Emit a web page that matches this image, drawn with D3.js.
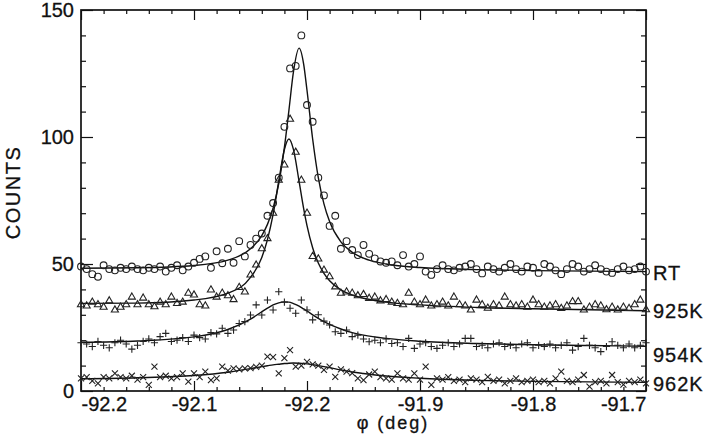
<!DOCTYPE html>
<html>
<head>
<meta charset="utf-8">
<script src="https://cdn.jsdelivr.net/npm/d3@7"></script>
<style>
  body { margin: 0; background: #fff; }
  svg { display: block; }
  .axis text { font: 20px "Liberation Sans", Arial, sans-serif; fill: #111; stroke: #111; stroke-width: 0.3; }
  .axis line { stroke: #111; stroke-width: 1.2; }
  .axis path { display: none; }
  .lbl { font: 20px "Liberation Sans", Arial, sans-serif; fill: #111; stroke: #111; stroke-width: 0.3; }
</style>
</head>
<body>
<svg class="chart"></svg>
<script>
// measurement grid, deg
var phi = [
  -92.200,-92.195,-92.190,-92.185,-92.180,-92.175,-92.170,-92.165,-92.160,-92.155,
  -92.150,-92.145,-92.140,-92.135,-92.130,-92.125,-92.120,-92.115,-92.110,-92.105,
  -92.100,-92.095,-92.090,-92.085,-92.080,-92.075,-92.070,-92.065,-92.060,-92.055,
  -92.050,-92.045,-92.040,-92.035,-92.030,-92.025,-92.020,-92.015,-92.010,-92.005,
  -92.000,-91.995,-91.990,-91.985,-91.980,-91.975,-91.970,-91.965,-91.960,-91.955,
  -91.950,-91.945,-91.940,-91.935,-91.930,-91.925,-91.920,-91.915,-91.910,-91.905,
  -91.900,-91.895,-91.890,-91.885,-91.880,-91.875,-91.870,-91.865,-91.860,-91.855,
  -91.850,-91.845,-91.840,-91.835,-91.830,-91.825,-91.820,-91.815,-91.810,-91.805,
  -91.800,-91.795,-91.790,-91.785,-91.780,-91.775,-91.770,-91.765,-91.760,-91.755,
  -91.750,-91.745,-91.740,-91.735,-91.730,-91.725,-91.720,-91.715,-91.710,-91.705,
  -91.700];

var countsRT = [
  49, 48, 46, 45, 49.5, 48, 47.5, 48.5, 48, 49,
  48, 47.5, 48.5, 48, 49, 47, 48.5, 49.5, 47.5, 49,
  50.5, 52, 53, 48.5, 55, 50.3, 56, 50.5, 59, 53,
  57.5, 60, 62, 69, 74, 84, 104, 127, 128, 140,
  112.6, 106, 84, 77, 65, 69, 56, 59, 55.5, 53.5,
  57.5, 54, 52.2, 51, 50.5, 51, 49.5, 53.5, 49, 50,
  53, 47, 45.7, 48, 49.5, 48, 47.5, 48.5, 49, 50,
  48, 46.3, 49, 48, 47, 48.5, 50, 48, 47, 49,
  48.5, 46.5, 50, 49, 47.5, 46, 48, 50, 49, 47,
  48, 49.5, 48, 47, 46.5, 48, 49, 47.5, 48, 49, 47];

var counts925 = [
  34, 33.5, 35, 34, 33, 35.5, 31.9, 33, 34, 37,
  34, 36.6, 34, 33.2, 35, 34, 37, 34.5, 35, 38.5,
  37.8, 34, 33.5, 39.8, 37, 38.5, 37.5, 36, 40.8, 39,
  45.7, 49.6, 56, 60, 70, 83, 89, 107, 94, 83,
  70, 53, 52, 47.6, 45, 41, 38.5, 39, 38.5, 37.5,
  38, 36.5, 37, 35.5, 36, 35, 34.5, 34, 38.5, 35,
  34, 35.8, 33.5, 34, 35, 33.5, 37, 34, 33.5, 31.9,
  35.8, 34, 32.6, 34, 33.5, 37, 34, 33.5, 34, 33,
  35.8, 34, 33, 33.5, 34, 32.5, 33.5, 35.2, 35.2, 31.9,
  33, 34, 33.5, 32, 33, 31.9, 33, 32.5, 34, 35.8, 32];

var counts954 = [
  19, 18.5, 17.5, 19.5, 18, 17, 19, 20, 18.5, 16.5,
  18, 19.5, 20.5, 19, 21.4, 22.7, 19.5, 20, 21, 19.5,
  22, 21, 20.5, 23, 22.5, 24.7, 22.7, 24, 26.6, 27.3,
  29.9, 33.9, 29.9, 35.8, 31.9, 39.1, 35, 32.6, 30.6, 35.8,
  31.9, 28, 30, 27.5, 26, 23.3, 22.7, 24, 21.4, 22,
  20.5, 19.4, 20, 19, 20.5, 18.7, 19, 17.5, 20.7, 16.8,
  18.5, 19, 17.5, 16.8, 18, 19, 17.5, 18.5, 20.7, 20.7,
  17.5, 18, 17, 18.5, 19, 17.5, 18, 17, 18.5, 19,
  17, 18, 17.5, 18.5, 17, 18, 19, 16.1, 17.5, 20.7,
  18, 17, 15.5, 17.5, 19.4, 18, 17, 18.5, 17, 18, 19];

var counts962 = [
  5, 5.5, 4, 3, 5.5, 5, 6.9, 5.5, 5, 6,
  4.5, 5.5, 2.4, 9.6, 5.5, 6, 5, 5.5, 6.9, 3.7,
  6.9, 5.5, 7.6, 4.3, 5, 9.6, 8, 8.9, 8.5, 8.9,
  9, 9.5, 10, 13.5, 13.3, 6.9, 12.9, 16.1, 9.6, 10,
  11.5, 10.5, 10, 8.3, 9.6, 5.6, 8.5, 7.6, 7, 5,
  4.3, 6.5, 7.6, 5.5, 5, 4.5, 6.9, 5, 4.5, 6.9,
  4.5, 9.6, 2.4, 5, 4.5, 5.5, 4, 4.5, 3.5, 5,
  4.5, 3.5, 5.6, 4, 4.5, 3, 4, 5, 3.5, 4,
  4.5, 3.5, 4, 3, 5, 7.6, 4, 3.5, 4.5, 6.3,
  1.7, 3.5, 4, 3, 6.3, 3.5, 2.5, 4, 3.5, 4.5, 3];

// fitted curves
var fitPhi = [-92.2, -92.15, -92.1, -92.07, -92.05, -92.04, -92.035, -92.03, -92.025, -92.02,
              -92.016, -92.012, -92.007, -92.003, -92.0, -91.995, -91.99, -91.985, -91.98, -91.97,
              -91.96, -91.95, -91.93, -91.9, -91.85, -91.8, -91.75, -91.7];
var fitRT  = [48.3, 48.5, 49.4, 51.5, 56, 61.2, 65.6, 72, 81.6, 95.9,
              110.5, 125.6, 135, 128.8, 118.4, 99.2, 84, 73.7, 66.7, 58.7,
              54.6, 52.3, 50, 48.6, 47.8, 47.4, 47.2, 47];
var fit925 = [34.5, 34.6, 35.8, 38.5, 44.7, 52.6, 59.6, 69.5, 82.6, 95.1,
              99.2, 95.1, 82.5, 71.9, 65.1, 56.4, 50.4, 46.3, 43.4, 39.8,
              37.8, 36.5, 35, 33.9, 32.9, 32.4, 32, 31.6];
var fit954 = [19.2, 19.7, 21.3, 24.2, 28.3, 31.2, 32.6, 33.9, 34.7, 35.1,
              35, 34.4, 33.4, 32.3, 31.5, 30, 28.6, 27.3, 26.2, 24.4,
              23, 22, 20.7, 19.6, 18.7, 18.2, 17.9, 17.6];
var fit962 = [4.8, 5.2, 6.1, 7.4, 8.8, 9.6, 9.95, 10.3, 10.55, 10.8,
              10.95, 11, 10.95, 10.8, 10.7, 10.4, 10, 9.6, 9.2, 8.3,
              7.5, 6.9, 5.9, 5.0, 4.2, 3.8, 3.6, 3.4];

var seriesNames = ["RT", "925K", "954K", "962K"];
var seriesMarkers = ["circle", "triangle", "plus", "cross"];

var xTicks = [-92.2, -92.1, -92.0, -91.9, -91.8, -91.7];
var xTickLabels = ["-92.2", "-92.1", "-92.2", "-91.9", "-91.8", "-91.7"];
var xMinor = [-92.18, -92.16, -92.14, -92.12, -92.08, -92.06, -92.04, -92.02,
              -91.98, -91.96, -91.94, -91.92, -91.88, -91.86, -91.84, -91.82,
              -91.78, -91.76, -91.74, -91.72];
var yTicks = [0, 50, 100, 150];
var yMinor = [10, 20, 30, 40, 60, 70, 80, 90, 110, 120, 130, 140];

var W = 709, H = 434;
// plot frame in pixels ("top" is taken by window.top, so prefix them)
var plotLeft = 81, plotRight = 646, plotTop = 10, plotBottom = 391;

var svg = d3.select(".chart").attr("width", W).attr("height", H);

var x = d3.scaleLinear().domain([-92.2, -91.7]).range([plotLeft, plotRight]);
var y = d3.scaleLinear().domain([0, 150]).range([plotBottom, plotTop]);

var scatter = [countsRT, counts925, counts954, counts962];
var fits = [fitRT, fit925, fit954, fit962];

// ticks, all pointing inward
function addAxis(axis, tx, ty) {
  return svg.append("g").attr("class", "axis")
    .attr("transform", "translate(" + tx + "," + ty + ")")
    .call(axis);
}

var xb = addAxis(d3.axisBottom(x).tickValues(xTicks).tickSize(-10).tickPadding(6)
  .tickFormat(function(d, i) { return xTickLabels[i]; }), 0, plotBottom);
xb.selectAll("text")
  .attr("text-anchor", function(d, i) { return i == 0 ? "start" : (i == xTicks.length - 1 ? "end" : "middle"); });
addAxis(d3.axisBottom(x).tickValues(xMinor).tickSize(-4).tickFormat(""), 0, plotBottom);
addAxis(d3.axisTop(x).tickValues(xTicks).tickSize(-10).tickFormat(""), 0, plotTop);
addAxis(d3.axisTop(x).tickValues(xMinor).tickSize(-4).tickFormat(""), 0, plotTop);

addAxis(d3.axisLeft(y).tickValues(yTicks).tickSize(-12).tickPadding(7), plotLeft, 0);
addAxis(d3.axisLeft(y).tickValues(yMinor).tickSize(-5).tickFormat(""), plotLeft, 0);
addAxis(d3.axisRight(y).tickValues(yTicks).tickSize(-10).tickFormat(""), plotRight, 0);
addAxis(d3.axisRight(y).tickValues(yMinor).tickSize(-5).tickFormat(""), plotRight, 0);

// frame
svg.append("rect")
  .attr("x", plotLeft).attr("y", plotTop)
  .attr("width", plotRight - plotLeft).attr("height", plotBottom - plotTop)
  .attr("fill", "none").attr("stroke", "#111").attr("stroke-width", 1.7);

// fitted lines
var line = d3.line()
  .x(function(d) { return x(d[0]); })
  .y(function(d) { return y(d[1]); })
  .curve(d3.curveMonotoneX);

fits.forEach(function(f) {
  svg.append("path")
    .datum(fitPhi.map(function(p, i) { return [p, f[i]]; }))
    .attr("d", line)
    .attr("fill", "none")
    .attr("stroke", "#111")
    .attr("stroke-width", 1.4);
});

// marker shapes
function markerPath(kind) {
  if (kind == "circle") return d3.symbol().type(d3.symbolCircle).size(36)();
  if (kind == "triangle") return d3.symbol().type(d3.symbolTriangle).size(22)();
  if (kind == "plus") return "M-3.6,0H3.6M0,-3.6V3.6";
  return "M-3,-3L3,3M-3,3L3,-3";
}

scatter.forEach(function(vals, s) {
  svg.append("g").selectAll("path")
    .data(vals.map(function(v, i) { return [phi[i], v]; }))
    .enter().append("path")
    .attr("transform", function(d) { return "translate(" + x(d[0]) + "," + y(d[1]) + ")"; })
    .attr("d", markerPath(seriesMarkers[s]))
    .attr("fill", "none")
    .attr("stroke", "#222")
    .attr("stroke-width", 1.1);
});

// series labels at the right edge
var labelNudge = [1, 0, 9, 2];
svg.append("g").selectAll("text")
  .data(seriesNames)
  .enter().append("text")
  .attr("class", "lbl")
  .attr("x", plotRight + 7)
  .attr("y", function(d, i) { return y(fits[i][fits[i].length - 1]) + labelNudge[i]; })
  .attr("dy", "0.35em")
  .style("letter-spacing", "1px")
  .text(function(d) { return d; });

// axis titles
svg.append("text")
  .attr("class", "lbl")
  .attr("transform", "translate(20," + ((plotTop + plotBottom) / 2 - 8) + ") rotate(-90)")
  .attr("text-anchor", "middle")
  .style("letter-spacing", "1.5px")
  .text("COUNTS");

svg.append("text")
  .attr("class", "lbl")
  .attr("x", 393)
  .attr("y", 429)
  .attr("text-anchor", "middle")
  .style("font-size", "18px")
  .style("letter-spacing", "2px")
  .text("φ (deg)");
</script>
</body>
</html>
